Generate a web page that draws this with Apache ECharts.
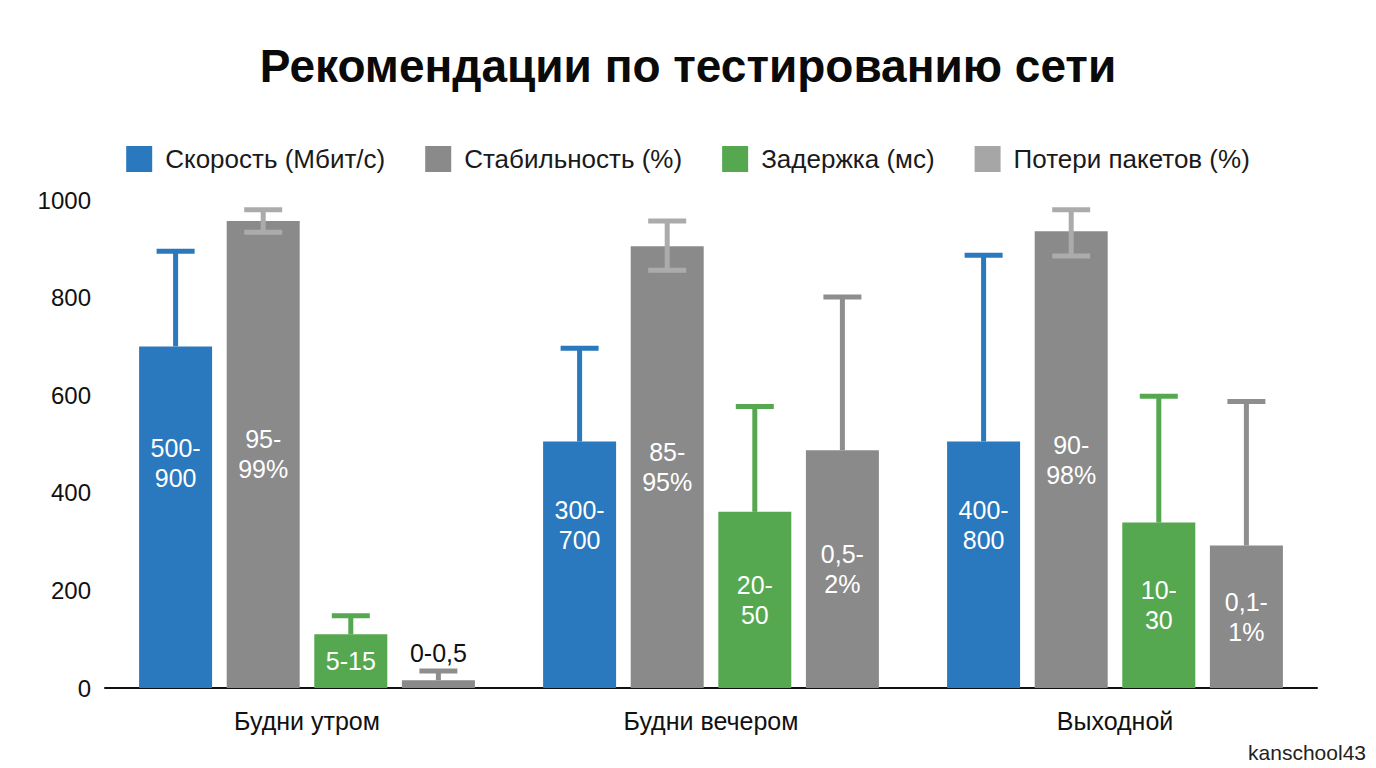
<!DOCTYPE html>
<html>
<head>
<meta charset="utf-8">
<script src="https://cdn.jsdelivr.net/npm/echarts@6/dist/echarts.min.js"></script>
<style>
  html, body { margin: 0; padding: 0; background: #fff; }
  #chart { width: 1376px; height: 768px; }
</style>
</head>
<body>
<div id="chart"></div>
<script>
const categories = ['Будни утром', 'Будни вечером', 'Выходной'];
const seriesNames = ['Скорость (Мбит/с)', 'Стабильность (%)', 'Задержка (мс)', 'Потери пакетов (%)'];

const speed = [700, 505, 505];
const speedLow = [700, 505, 505];
const speedHigh = [895, 696, 887];
const speedLabels = ['500-\n900', '300-\n700', '400-\n800'];

const stability = [957, 905, 936];
const stabilityLow = [934, 856, 885];
const stabilityHigh = [980, 957, 980];
const stabilityLabels = ['95-\n99%', '85-\n95%', '90-\n98%'];

const delay = [110, 361, 339];
const delayLow = [110, 361, 339];
const delayHigh = [148, 577, 598];
const delayLabels = ['5-15', '20-\n50', '10-\n30'];

const loss = [16, 487, 292];
const lossLow = [16, 487, 292];
const lossHigh = [35, 801, 587];
const lossLabels = ['0-0,5', '0,5-\n2%', '0,1-\n1%'];

const yTicks = [0, 200, 400, 600, 800, 1000];

const FONT = 'Liberation Sans, Arial, sans-serif';
const BAR_COLORS = ['#2a78bd', '#8a8a8b', '#55a84f', '#8a8a8b'];
const LEGEND_COLORS = ['#2a78bd', '#8a8a8b', '#55a84f', '#a6a6a6'];
const WHISKER_COLORS = ['#2a78bd', '#ababab', '#55a84f', '#8e8e8e'];
const BAR_W = 73;
const BAR_GAP = 0.2;

const bars = [
  { values: speed, low: speedLow, high: speedHigh, labels: speedLabels, pos: ['50%', '34%'] },
  { values: stability, low: stabilityLow, high: stabilityHigh, labels: stabilityLabels, pos: 'inside' },
  { values: delay, low: delayLow, high: delayHigh, labels: delayLabels, pos: 'inside' },
  { values: loss, low: lossLow, high: lossHigh, labels: lossLabels, pos: 'inside' },
];

function barSeries(b, i) {
  return {
    name: seriesNames[i],
    type: 'bar',
    barWidth: BAR_W,
    barGap: (BAR_GAP * 100) + '%',
    itemStyle: { color: BAR_COLORS[i] },
    z: 2,
    data: b.values.map((v, k) => {
      // a bar too short for its text gets the label above, in black
      const small = v < 60;
      return {
        value: v,
        label: {
          show: true,
          formatter: b.labels[k],
          position: small ? 'top' : b.pos,
          distance: 12,
          align: 'center',
          verticalAlign: small ? 'bottom' : 'middle',
          color: small ? '#111' : '#fff',
          fontSize: 25,
          lineHeight: 30,
          fontFamily: FONT,
        },
      };
    }),
  };
}

function whiskerSeries(b, i) {
  const offset = (i - 1.5) * BAR_W * (1 + BAR_GAP);
  return {
    type: 'custom',
    z: 5,
    silent: true,
    data: b.values.map((v, k) => [k, b.low[k], b.high[k], v]),
    renderItem: (params, api) => {
      const top = api.coord([api.value(0), api.value(2)]);
      const lo = api.coord([api.value(0), api.value(1)]);
      const x = top[0] + offset;
      const cap = 19;
      const style = { stroke: WHISKER_COLORS[i], lineWidth: 5 };
      const children = [
        { type: 'line', shape: { x1: x, y1: top[1], x2: x, y2: lo[1] }, style },
        { type: 'line', shape: { x1: x - cap, y1: top[1], x2: x + cap, y2: top[1] }, style },
      ];
      if (api.value(1) < api.value(3)) {
        children.push({ type: 'line', shape: { x1: x - cap, y1: lo[1], x2: x + cap, y2: lo[1] }, style });
      }
      return { type: 'group', children };
    },
  };
}

const chart = echarts.init(document.getElementById('chart'), null, { renderer: 'svg' });
chart.setOption({
  backgroundColor: '#fff',
  animation: false,
  textStyle: { fontFamily: FONT, color: '#111' },
  title: {
    text: 'Рекомендации по тестированию сети',
    left: 'center', top: 38,
    textStyle: { fontSize: 46, fontWeight: 'bold', color: '#0a0a0a', fontFamily: FONT },
  },
  legend: {
    top: 141, left: 'center',
    icon: 'rect', itemWidth: 26, itemHeight: 26, itemGap: 40,
    textStyle: { fontSize: 26, color: '#1a1a1a', fontFamily: FONT, padding: [0, 0, 0, 8] },
    data: seriesNames.map((n, i) => ({ name: n, itemStyle: { color: LEGEND_COLORS[i] } })),
  },
  grid: { left: 105, right: 59, top: 200, bottom: 80, containLabel: false },
  xAxis: {
    type: 'category',
    data: categories,
    axisLine: { lineStyle: { color: '#111', width: 2 } },
    axisTick: { show: false },
    axisLabel: { fontSize: 25, color: '#111', margin: 20, fontFamily: FONT },
  },
  yAxis: {
    type: 'value',
    min: yTicks[0], max: yTicks[yTicks.length - 1], interval: yTicks[1] - yTicks[0],
    axisLine: { show: false },
    axisTick: { show: false },
    splitLine: { show: false },
    axisLabel: { fontSize: 24, color: '#111', margin: 14, fontFamily: FONT, formatter: v => String(v) },
  },
  graphic: [{
    type: 'text', right: 10, bottom: 5,
    style: { text: 'kanschool43', fontSize: 21, fill: '#222', fontFamily: FONT },
  }],
  series: [...bars.map(barSeries), ...bars.map(whiskerSeries)],
});
</script>
</body>
</html>
